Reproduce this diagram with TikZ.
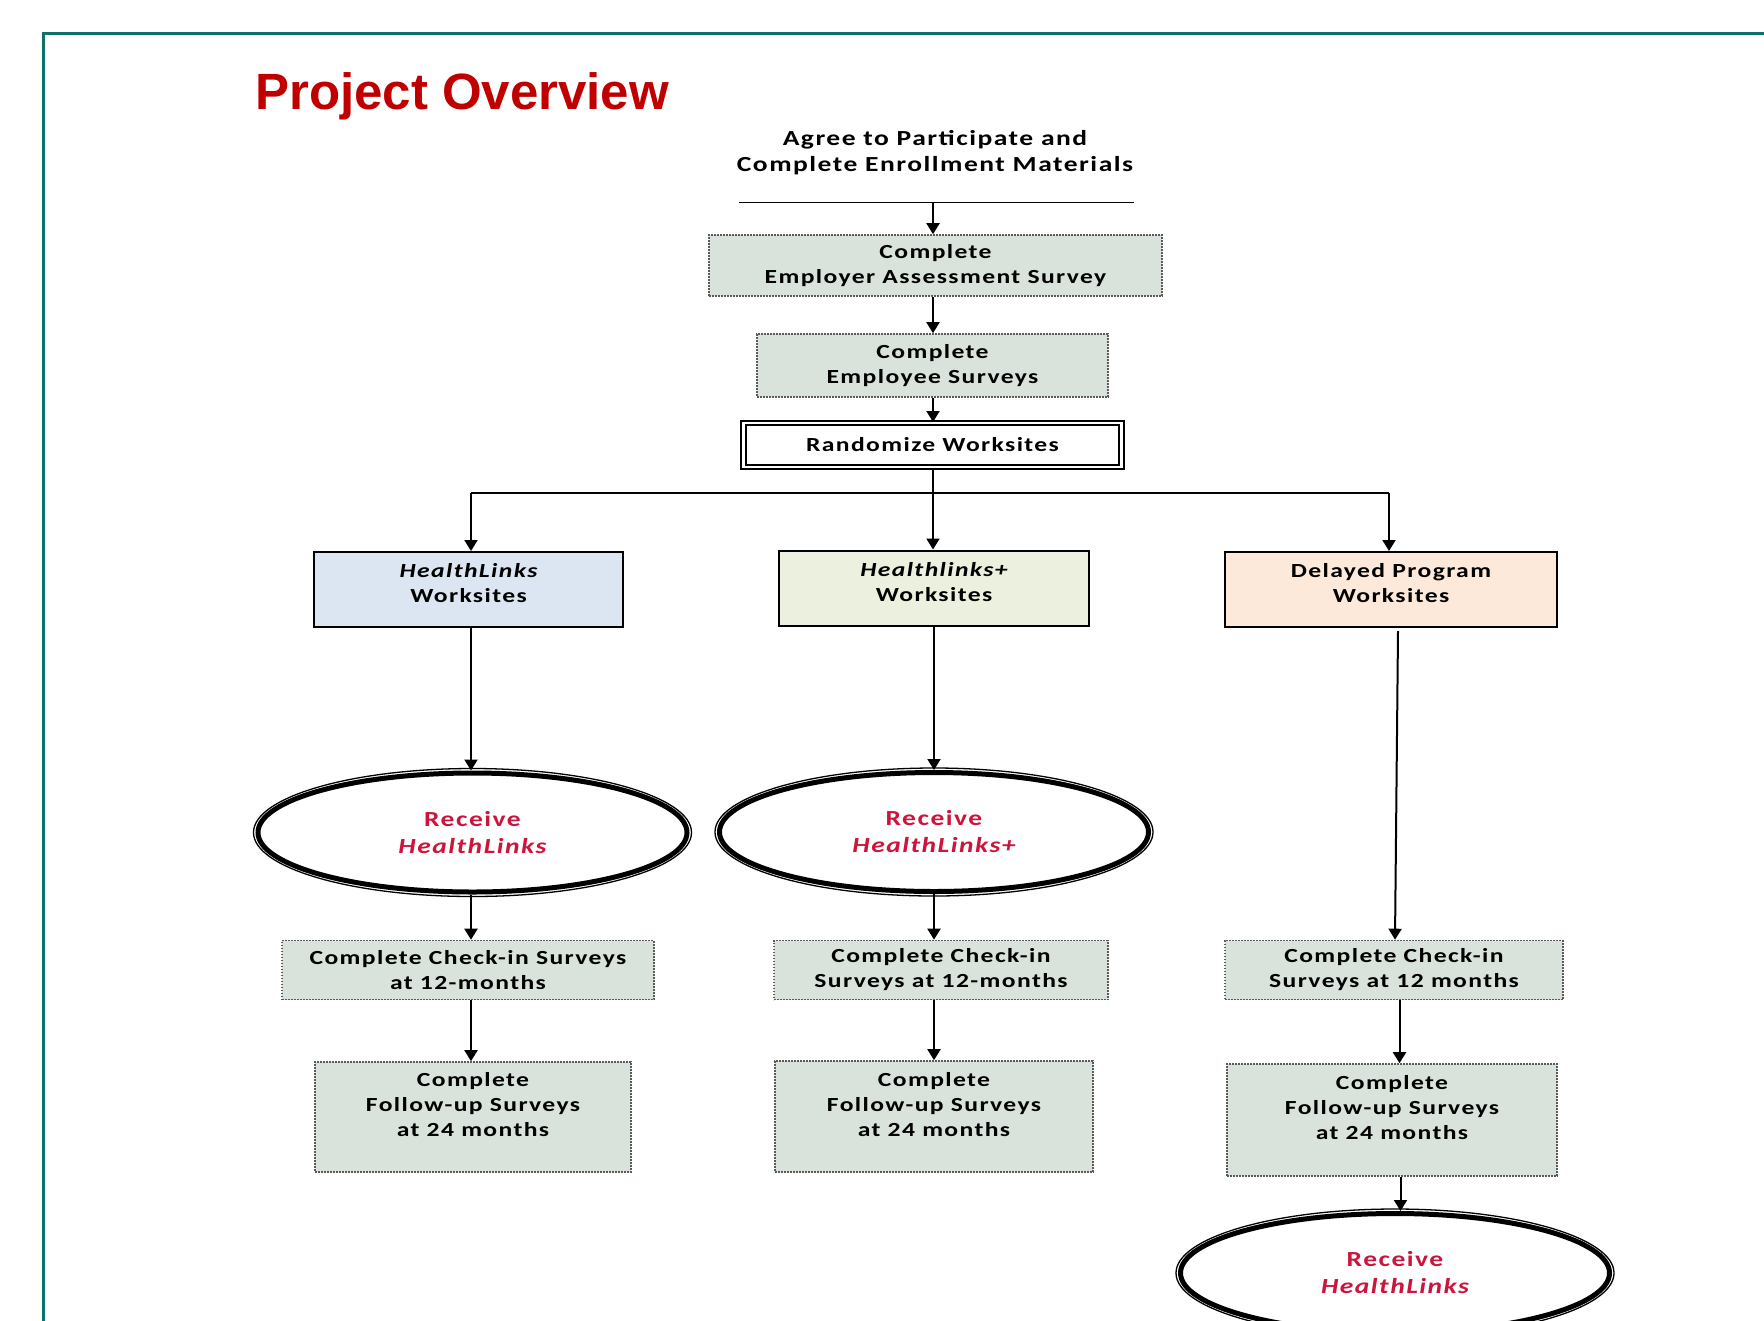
\documentclass[tikz,border=0pt]{standalone}
\usepackage{fontspec}
\setmainfont{Carlito}[FakeStretch=1.28,LetterSpace=7]
\newfontfamily\titlefont{Liberation Sans}
\usetikzlibrary{arrows.meta,shapes.geometric}
\definecolor{frameteal}{RGB}{18,112,106}
\definecolor{titlered}{RGB}{192,0,0}
\definecolor{recvred}{RGB}{204,20,60}
\definecolor{stepfill}{RGB}{217,227,219}
\definecolor{hlblue}{RGB}{220,230,242}
\definecolor{hlgreen}{RGB}{235,241,222}
\definecolor{delpeach}{RGB}{253,233,217}
\definecolor{dotgray}{RGB}{90,90,90}
\begin{document}
\begin{tikzpicture}[x=1pt,y=-1pt,
  every node/.style={font=\fontsize{20}{25}\selectfont\bfseries, align=center, inner sep=0pt},
  stepbox/.style={rectangle, fill=stepfill, draw=dotgray, line width=1.6pt, dash pattern=on 1.6pt off 1.4pt},
  groupbox/.style={rectangle, draw=black, line width=2pt, minimum height=75pt},
  recv/.style={ellipse, draw=black, line width=5pt, minimum width=429pt, minimum height=119pt, text=recvred, font=\fontsize{21.5}{27}\selectfont\bfseries},
  ring/.style={draw=black, line width=1.3pt},
  arr/.style={draw=black, line width=2pt, -{Triangle[width=13pt,length=11pt]}},
  conn/.style={draw=black, line width=2pt}
]
\useasboundingbox (0,0) rectangle (1764,1320);
\fill[white] (0,0) rectangle (1764,1320);
% frame
\draw[frameteal, line width=3pt] (43,1325) -- (43,33) -- (1770,33);
% title
\node[anchor=base west, font=\titlefont\fontsize{51}{60}\selectfont\bfseries, text=titlered] (title) at (255,109) {Project Overview};
% top
\node[font=\fontsize{21.5}{26}\selectfont\bfseries] (agree) at (935,153) {Agree to Participate and\\Complete Enrollment Materials};
\coordinate (hl1) at (739,202.5);
\coordinate (hl2) at (1134,202.5);
\coordinate (hlm) at (933,202.5);
\draw[conn, line width=1.6pt] (hl1) -- (hl2);
\node[stepbox, minimum width=453pt, minimum height=61pt] (eas) at (935.5,265.5) {Complete\\Employer Assessment Survey};
\node[stepbox, minimum width=351pt, minimum height=63pt] (emp) at (932.5,365.5) {Complete\\Employee Surveys};
\node[draw=black, line width=2pt, double, double distance=2.5pt, minimum width=378pt, minimum height=44pt] (rand) at (932.5,445) {Randomize Worksites};
\draw[arr] (hlm) -- (hlm |- eas.north);
\draw[arr] (eas.south -| hlm) -- (hlm |- emp.north);
\draw[arr] (emp.south -| hlm) -- (hlm |- rand.north);
% groups
\node[groupbox, fill=hlblue, minimum width=309pt, text depth=13pt] (hl) at (468.5,589.5) {\itshape HealthLinks\\Worksites};
\node[groupbox, fill=hlgreen, minimum width=310pt, text depth=13pt] (hlp) at (934,588) {\itshape Healthlinks+\\Worksites};
\node[groupbox, fill=delpeach, minimum width=332pt, text depth=13pt] (del) at (1391,589.5) {Delayed Program\\Worksites};
\coordinate (br) at (933,493);
\coordinate (brl) at (471,493);
\coordinate (brr) at (1389,493);
\draw[conn] (rand.south -| br) -- (br);
\draw[conn] (brl) -- (brr);
\draw[arr] (brl) -- (brl |- hl.north);
\draw[arr] (br) -- (br |- hlp.north);
\draw[arr] (brr) -- (brr |- del.north);
% ellipses
\node[recv] (e1) at (472.5,832.5) {Receive\\\itshape HealthLinks};
\node[recv] (e2) at (934,832) {Receive\\\itshape HealthLinks+};
\node[recv] (e3) at (1395,1273) {Receive\\\itshape HealthLinks};
\draw[ring] (e1.center) ellipse [x radius=219pt, y radius=64pt];
\draw[ring] (e2.center) ellipse [x radius=219pt, y radius=64pt];
\draw[ring] (e3.center) ellipse [x radius=219pt, y radius=64pt];
\draw[arr] (hl.south -| brl) -- (brl |- e1.north);
\draw[arr] (hlp.south) -- (hlp.south |- e2.north);
% check-in
\node[stepbox, minimum width=372pt, minimum height=59pt] (ci1) at (468,970) {Complete Check-in Surveys\\at 12-months};
\node[stepbox, minimum width=334pt, minimum height=59pt] (ci2) at (941,970) {Complete Check-in\\Surveys at 12-months};
\node[stepbox, minimum width=338pt, minimum height=59pt] (ci3) at (1394,970) {Complete Check-in\\Surveys at 12 months};
\coordinate (c3a) at (1398,631);
\draw[arr] (c3a) -- (ci3.north -| 1395,0);
\draw[arr] (e1.south -| brl) -- (brl |- ci1.north);
\draw[arr] (e2.south) -- (e2.south |- ci2.north);
% follow-up
\node[stepbox, minimum width=316pt, minimum height=110pt, text depth=25pt] (fu1) at (473,1117) {Complete\\Follow-up Surveys\\at 24 months};
\node[stepbox, minimum width=318pt, minimum height=111pt, text depth=25pt] (fu2) at (934,1116.5) {Complete\\Follow-up Surveys\\at 24 months};
\node[stepbox, minimum width=330pt, minimum height=112pt, text depth=25pt] (fu3) at (1392,1120) {Complete\\Follow-up Surveys\\at 24 months};
\draw[arr] (ci1.south -| brl) -- (brl |- fu1.north);
\draw[arr] (ci2.south -| fu2) -- (fu2.north);
\coordinate (c3b) at (1399.5,0);
\draw[arr] (ci3.south -| c3b) -- (c3b |- fu3.north);
\coordinate (c3c) at (1400.5,0);
\draw[arr] (fu3.south -| c3c) -- (c3c |- e3.north);
\end{tikzpicture}
\end{document}
